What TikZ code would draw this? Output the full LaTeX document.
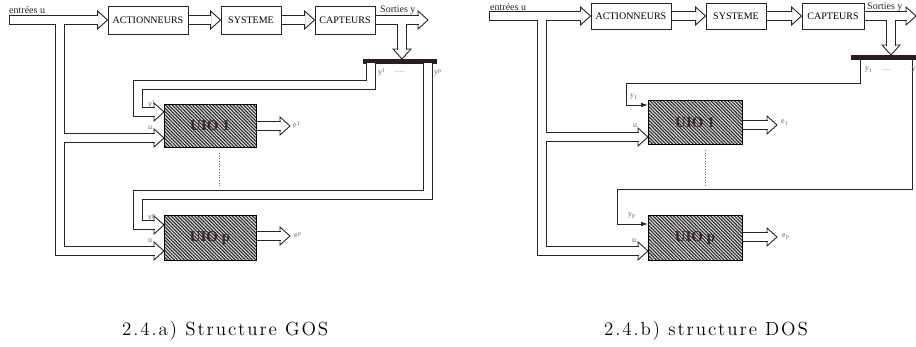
\documentclass[tikz,border=0pt]{standalone}
\usepackage{fontspec}
\newfontfamily\dgfont{Liberation Serif}
\newfontfamily\capfont[LetterSpace=10]{lmroman12-regular.otf}
\usetikzlibrary{calc,patterns.meta,arrows.meta}
\definecolor{plum}{HTML}{3B2333}
\definecolor{bardark}{HTML}{2B1B26}
\definecolor{ink}{HTML}{262626}

% hollow arrow heads (tip given), drawn before the shafts
\newcommand\headE[1]{\draw[hhead] ($(#1)+(-10,-9)$) -- (#1) -- ($(#1)+(-10,9)$) -- cycle;}
\newcommand\headS[1]{\draw[hhead] ($(#1)+(-9,-10)$) -- (#1) -- ($(#1)+(9,-10)$) -- cycle;}

\tikzset{
  shaftout/.style={line width=10pt, draw=ink, line join=miter, line cap=butt},
  shaftin/.style={line width=8pt, draw=white, line join=miter, line cap=butt},
  hhead/.style={draw=ink, fill=white, line width=0.9pt, line join=miter},
  edge/.style={draw=ink, line width=1pt},
  blockbox/.style={draw=ink, line width=0.9pt, fill=white, inner sep=0pt,
    font=\dgfont\fontsize{10}{12}\selectfont},
  uiobox/.style={draw=black, line width=1pt, inner sep=0pt,
    preaction={fill=gray!30},
    pattern={Lines[angle=-45,distance=2.4pt,line width=1.05pt]}, pattern color=black!85,
    font=\dgfont\bfseries\fontsize{15}{18}\selectfont, text=plum},
  barbox/.style={fill=bardark, inner sep=0pt},
  toplbl/.style={font=\dgfont\fontsize{10}{12}\selectfont, inner sep=0pt, anchor=base west, text=ink},
  lbl/.style={font=\dgfont\fontsize{8}{9}\selectfont, inner sep=0pt, anchor=base west, text=black!60},
  dotsl/.style={font=\dgfont\fontsize{6}{7}\selectfont, inner sep=0pt, anchor=base west, text=black!60},
  captxt/.style={font=\capfont\fontsize{19}{22}\selectfont, inner sep=0pt, anchor=base west},
  sigline/.style={draw=ink, line width=0.8pt, -{Latex[length=7pt,width=4.5pt]}},
  guide/.style={draw=black!60, line width=0.7pt, dotted},
}

\begin{document}
\begin{tikzpicture}[x=1pt,y=-1pt]
\useasboundingbox (0,0) rectangle (916,347);

%%%%%%%%%%%%%%%% GOS structure %%%%%%%%%%%%%%%%
\node[blockbox, minimum width=80pt, minimum height=28pt] (actL) at (148,20) {ACTIONNEURS};
\node[blockbox, minimum width=60pt, minimum height=28pt] (sysL) at (251,20) {SYSTEME};
\node[blockbox, minimum width=60pt, minimum height=28pt] (capL) at (345,20) {CAPTEURS};
\node[barbox, minimum width=74pt, minimum height=5pt] (barL) at (400,61.5) {};
\node[uiobox, minimum width=92pt, minimum height=43pt] (uioAL) at (210,126) {UIO 1};
\node[uiobox, minimum width=92pt, minimum height=45pt] (uioPL) at (210,238.5) {UIO p};

% way points of the GOS connectors
\coordinate (inL) at (9,20);
\coordinate (outL) at (428,20);
\coordinate (dnL) at (402,59);
\coordinate (yAL) at (164,112);
\coordinate (uAL) at (164,138);
\coordinate (yPL) at (164,225);
\coordinate (uPL) at (164,251);
\coordinate (eAL) at (290,126);
\coordinate (ePL) at (290,236);
\coordinate (eAL0) at (256.5,126);
\coordinate (ePL0) at (256.5,236);
\coordinate (tL0) at (60,20);
\coordinate (tL1) at (60,251);
\coordinate (tL2) at (60,138);
\coordinate (y1L0) at (371,63.5);
\coordinate (y1L1) at (371,85);
\coordinate (y1L2) at (138,85);
\coordinate (y1L3) at (138,112);
\coordinate (ypL0) at (428,63.5);
\coordinate (ypL1) at (428,195);
\coordinate (ypL2) at (138,195);
\coordinate (ypL3) at (138,225);

\headE{actL.west} \headE{sysL.west} \headE{capL.west} \headE{outL}
\headS{dnL}
\headE{yAL} \headE{uAL} \headE{yPL} \headE{uPL}
\headE{eAL} \headE{ePL}

\def\shaftsL{
  (inL) -- ($(actL.west)+(-9.4,0)$)
  ($(actL.east)+(0.45,0)$) -- ($(sysL.west)+(-9.4,0)$)
  ($(sysL.east)+(0.45,0)$) -- ($(capL.west)+(-9.4,0)$)
  ($(capL.east)+(0.45,0)$) -- ($(outL)+(-9.4,0)$)
  (402,20) -- ($(dnL)+(0,-9.4)$)
  (tL0) -- (tL1) -- ($(uPL)+(-9.4,0)$)
  (tL2) -- ($(uAL)+(-9.4,0)$)
  (y1L0) -- (y1L1) -- (y1L2) -- (y1L3) -- ($(yAL)+(-9.4,0)$)
  (ypL0) -- (ypL1) -- (ypL2) -- (ypL3) -- ($(yPL)+(-9.4,0)$)
  (eAL0) -- ($(eAL)+(-9.4,0)$)
  (ePL0) -- ($(ePL)+(-9.4,0)$)
}
\draw[shaftout] \shaftsL;
\draw[shaftin] \shaftsL;
\draw[edge] ($(inL)+(0,-5)$) -- ($(inL)+(0,5)$);

\draw[guide] (219,153) -- (219,188);

\node[toplbl] (tinL) at (9,13.5) {entrées u};
\node[toplbl] (toutL) at (380,13) {Sorties y};
\node[lbl] at (378,75) {y\textsuperscript{1}};
\node[dotsl] at (395,73) {......};
\node[lbl] at (434,75) {y\textsuperscript{p}};
\node[lbl] at (148,107) {y\textsuperscript{1}};
\node[lbl] at (148,130) {u};
\node[lbl] at (148,220) {y\textsuperscript{p}};
\node[lbl] at (148,243) {u};
\node[lbl] at (293,128) {e\textsuperscript{1}};
\node[lbl] at (294,238) {e\textsuperscript{p}};

\node[captxt] (capA) at (122,336) {2.4.a) Structure GOS};

%%%%%%%%%%%%%%%% DOS structure %%%%%%%%%%%%%%%%
\node[blockbox, minimum width=80pt, minimum height=26pt] (actR) at (631,16) {ACTIONNEURS};
\node[blockbox, minimum width=60pt, minimum height=26pt] (sysR) at (736,16) {SYSTEME};
\node[blockbox, minimum width=62pt, minimum height=26pt] (capR) at (833,16) {CAPTEURS};
\node[barbox, minimum width=66pt, minimum height=5pt] (barR) at (884,57.5) {};
\node[uiobox, minimum width=94pt, minimum height=44pt] (uioAR) at (695,123) {UIO 1};
\node[uiobox, minimum width=94pt, minimum height=45pt] (uioPR) at (695,238.5) {UIO p};

% way points of the DOS connectors
\coordinate (inR) at (489,16);
\coordinate (outR) at (916,16);
\coordinate (dnR) at (891,55);
\coordinate (uAR) at (648,137);
\coordinate (uPR) at (648,251);
\coordinate (eAR) at (777,125);
\coordinate (ePR) at (777,237);
\coordinate (eAR0) at (742.5,125);
\coordinate (ePR0) at (742.5,237);
\coordinate (tR0) at (542,16);
\coordinate (tR1) at (542,251);
\coordinate (tR2) at (542,137);
\coordinate (y1R0) at (860,60);
\coordinate (y1R1) at (860,83);
\coordinate (y1R2) at (626,83);
\coordinate (y1R3) at (626,105);
\coordinate (y1R4) at (648,105);
\coordinate (ypR0) at (912,60);
\coordinate (ypR1) at (912,189);
\coordinate (ypR2) at (617,189);
\coordinate (ypR3) at (617,224);
\coordinate (ypR4) at (648,224);

\headE{actR.west} \headE{sysR.west} \headE{capR.west} \headE{outR}
\headS{dnR}
\headE{uAR} \headE{uPR}
\headE{eAR} \headE{ePR}

\def\shaftsR{
  (inR) -- ($(actR.west)+(-9.4,0)$)
  ($(actR.east)+(0.45,0)$) -- ($(sysR.west)+(-9.4,0)$)
  ($(sysR.east)+(0.45,0)$) -- ($(capR.west)+(-9.4,0)$)
  ($(capR.east)+(0.45,0)$) -- ($(outR)+(-9.4,0)$)
  (891,16) -- ($(dnR)+(0,-9.4)$)
  (tR0) -- (tR1) -- ($(uPR)+(-9.4,0)$)
  (tR2) -- ($(uAR)+(-9.4,0)$)
  (eAR0) -- ($(eAR)+(-9.4,0)$)
  (ePR0) -- ($(ePR)+(-9.4,0)$)
}
\draw[shaftout] \shaftsR;
\draw[shaftin] \shaftsR;
\draw[edge] ($(inR)+(0,-5)$) -- ($(inR)+(0,5)$);

% single output lines in the DOS scheme
\draw[sigline] (y1R0) -- (y1R1) -- (y1R2) -- (y1R3) -- (y1R4);
\draw[sigline] (ypR0) -- (ypR1) -- (ypR2) -- (ypR3) -- (ypR4);

\draw[guide] (705,150) -- (705,187);

\node[toplbl] (tinR) at (490,11) {entrées u};
\node[toplbl] (toutR) at (867,10) {Sorties y};
\node[lbl] at (865,71) {y\textsubscript{1}};
\node[dotsl] at (882,71) {......};
\node[lbl] at (911.5,71) {y};
\node[lbl] at (630,98) {y\textsubscript{1}};
\node[lbl] at (633,128) {u};
\node[lbl] at (628,217) {y\textsubscript{p}};
\node[lbl] at (632,243) {u};
\node[lbl] at (781,124) {e\textsubscript{1}};
\node[lbl] at (782,238) {e\textsubscript{p}};

\node[captxt] (capB) at (604,336) {2.4.b) structure DOS};
\end{tikzpicture}
\end{document}
